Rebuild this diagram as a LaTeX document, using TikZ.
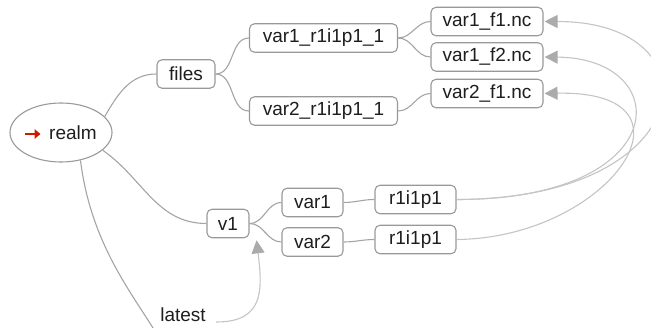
\documentclass[tikz,border=0pt]{standalone}
\usepackage{fontspec}
\setmainfont{Liberation Sans}
\usetikzlibrary{arrows.meta,shapes.geometric}

\definecolor{boxline}{HTML}{999999}
\definecolor{treeline}{HTML}{A4A4A4}
\definecolor{linkline}{HTML}{C4C4C4}
\definecolor{linkhead}{HTML}{ABABAB}
\definecolor{labeltext}{HTML}{1E1E1E}
\definecolor{rootmark}{HTML}{CC1A00}

\tikzset{
  treebox/.style={draw=boxline, line width=1.1pt, rounded corners=5pt, fill=white,
    minimum height=28.5pt, inner sep=0pt, text=labeltext,
    font=\fontsize{19}{19}\selectfont},
  rootnode/.style={ellipse, draw=boxline, line width=1.1pt, fill=white,
    minimum width=102pt, minimum height=59pt, inner sep=0pt, text=labeltext,
    font=\fontsize{19}{19}\selectfont},
  plainlabel/.style={inner sep=0pt, minimum height=28pt, minimum width=58pt,
    text=labeltext, font=\fontsize{19}{19}\selectfont},
  treeedge/.style={draw=treeline, line width=1.1pt},
  linkedge/.style={draw=linkline, line width=1.1pt, shorten >=1pt,
    -{Triangle[length=13pt,width=13pt,fill=linkhead,color=linkhead]}},
}

\begin{document}
\begin{tikzpicture}[x=1pt,y=1pt]
\useasboundingbox (0,0) rectangle (651,-327);

% root and tree nodes
\node[rootnode] (realm) at (61,-132.5) {\hspace*{24pt}realm};
\node[treebox, minimum width=58pt]  (files) at (186,-74) {files};
\node[treebox, minimum width=148pt] (vr1)   at (323.5,-38) {var1\_r1i1p1\_1};
\node[treebox, minimum width=148pt] (vr2)   at (323.5,-111) {var2\_r1i1p1\_1};
\node[treebox, minimum width=112pt] (f11)   at (487,-21.5) {var1\_f1.nc};
\node[treebox, minimum width=112pt] (f12)   at (487,-57) {var1\_f2.nc};
\node[treebox, minimum width=112pt] (f21)   at (487,-93.5) {var2\_f1.nc};
\node[treebox, minimum width=42pt]  (v1)    at (228,-223.5) {v1};
\node[treebox, minimum width=61pt]  (va1)   at (312.5,-202.5) {var1};
\node[treebox, minimum width=61pt]  (va2)   at (312.5,-242) {var2};
\node[treebox, minimum width=81pt]  (r1a)   at (415.5,-199.5) {r1i1p1};
\node[treebox, minimum width=81pt]  (r1b)   at (415.5,-239.5) {r1i1p1};
\node[plainlabel] (latest) at (183,-315) {latest};

% red marker in front of the root label
\draw[rootmark, line width=2.6pt, -{Triangle[length=6pt,width=9.5pt]}] (25,-134) -- (40.5,-134);

% tree edges
\draw[treeedge] (realm.20) to[out=60,in=180] (files.west);
\draw[treeedge] (realm.-23) to[out=-35,in=180] (v1.west);
\draw[treeedge] (realm.-55) .. controls +(10,-80) and +(-25,40) .. (latest.south west);
\draw[treeedge] (files.east) to[out=0,in=180] (vr1.west);
\draw[treeedge] (files.east) to[out=0,in=180] (vr2.west);
\draw[treeedge] (vr1.east) to[out=0,in=180] (f11.west);
\draw[treeedge] (vr1.east) to[out=0,in=180] (f12.west);
\draw[treeedge] (vr2.east) to[out=0,in=180] (f21.west);
\draw[treeedge] (v1.east) to[out=0,in=180] (va1.west);
\draw[treeedge] (v1.east) to[out=0,in=180] (va2.west);
\draw[treeedge] (va1.east) to[out=0,in=180] (r1a.west);
\draw[treeedge] (va2.east) to[out=0,in=180] (r1b.west);

% link edges (symbolic links)
\draw[linkedge] (r1a.east) .. controls +(244,0) and +(177,0) .. (f11.east);
\draw[linkedge] (r1a.east) .. controls +(219,0) and +(132,-1) .. (f12.east);
\draw[linkedge] (r1b.east) .. controls +(154,1.5) and +(167,3.5) .. (f21.east);
\coordinate (v1tip) at ([shift={(7pt,-2pt)}]v1.south east);
\draw[linkedge, shorten >=0pt] ([shift={(4pt,-7pt)}]latest.east) .. controls +(48,0) and +(6,-50) .. (v1tip);
\end{tikzpicture}
\end{document}
